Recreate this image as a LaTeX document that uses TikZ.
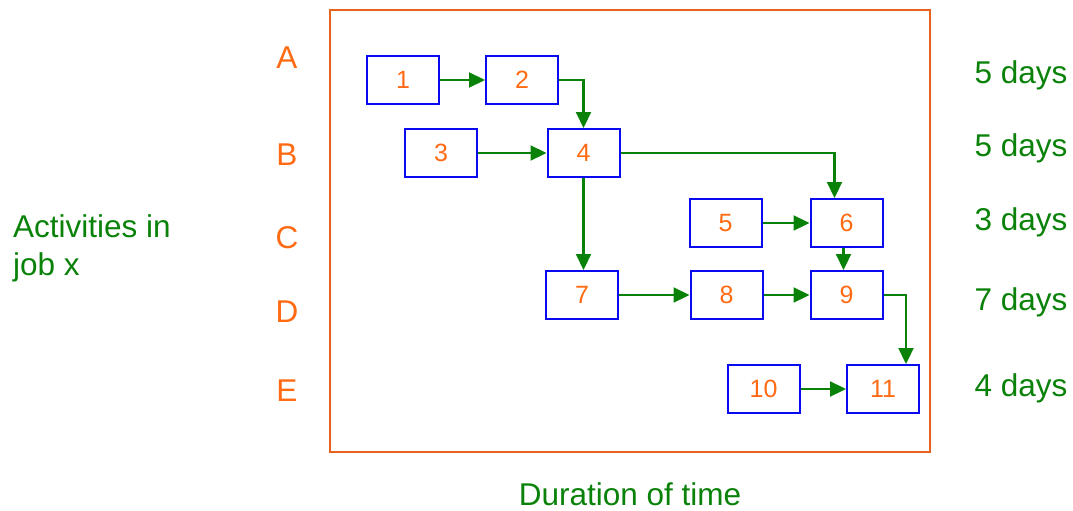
\documentclass[tikz,border=0pt]{standalone}
\usepackage{fontspec}
\setmainfont{Liberation Sans}
\usetikzlibrary{arrows.meta}
\definecolor{frameorange}{HTML}{E8641E}
\definecolor{txtorange}{HTML}{FF6A13}
\definecolor{linkgreen}{HTML}{0A820A}
\definecolor{boxblue}{HTML}{0A0AF0}
\tikzset{
  act/.style={draw=boxblue, line width=2pt, minimum width=72pt, minimum height=48pt,
    inner sep=0pt, text=txtorange, font=\fontsize{25}{30}\selectfont},
  link/.style={draw=linkgreen, line width=2.2pt,
    -{Triangle[length=16pt,width=15pt]}},
  bigtext/.style={inner sep=0pt, font=\fontsize{31.5}{37}\selectfont},
  rowlbl/.style={bigtext, anchor=base, text=txtorange},
  durlbl/.style={bigtext, anchor=base, text=linkgreen},
}
\begin{document}
\begin{tikzpicture}[x=1pt, y=-1pt]
\useasboundingbox (0,0) rectangle (1073,511);
% time frame
\draw[frameorange, line width=1.6pt] (330,10) rectangle (930,452);

% row letters
\node[rowlbl] (ra) at (287,69) {A};
\node[rowlbl] (rb) at (287,165) {B};
\node[rowlbl] (rc) at (287,248) {C};
\node[rowlbl] (rd) at (287,322) {D};
\node[rowlbl] (re) at (287,401) {E};

% durations
\node[durlbl] (da) at (1021,84) {5 days};
\node[durlbl] (db) at (1021,156) {5 days};
\node[durlbl] (dc) at (1021,230) {3 days};
\node[durlbl] (dd) at (1021,310) {7 days};
\node[durlbl] (de) at (1021,396) {4 days};

\node[bigtext, anchor=base west, text=linkgreen] (act1) at (13,237) {Activities in};
\node[bigtext, anchor=base west, text=linkgreen] (act2) at (13,275) {job x};
\node[bigtext, anchor=base, text=linkgreen] (dur) at (630,505) {Duration of time};

% activity boxes
\node[act] (n1) at (403,80) {1};
\node[act] (n2) at (522,80) {2};
\node[act] (n3) at (441,153) {3};
\node[act] (n4) at (583.5,153) {4};
\node[act] (n5) at (725.5,223) {5};
\node[act] (n6) at (846.5,223) {6};
\node[act] (n7) at (582,295) {7};
\node[act] (n8) at (726.5,295) {8};
\node[act] (n9) at (846.5,295) {9};
\node[act] (n10) at (763.5,389) {10};
\node[act] (n11) at (883,389) {11};

% dependencies
\draw[link] (n1.east) -- (n2.west);
\draw[link] (n2.east) -| (n4.north);
\draw[link] (n3.east) -- (n4.west);
\draw[link] (n4.east) -| ([xshift=-12pt]n6.north);
\draw[link] (n4.south) -- (n4.south |- n7.north);
\draw[link] (n5.east) -- (n6.west);
\draw[link] ([xshift=-3pt]n6.south) -- ([xshift=-3pt]n9.north);
\draw[link] (n7.east) -- (n8.west);
\draw[link] (n8.east) -- (n9.west);
\draw[link] (n9.east) -| ([xshift=23pt]n11.north);
\draw[link] (n10.east) -- (n11.west);
\end{tikzpicture}
\end{document}
